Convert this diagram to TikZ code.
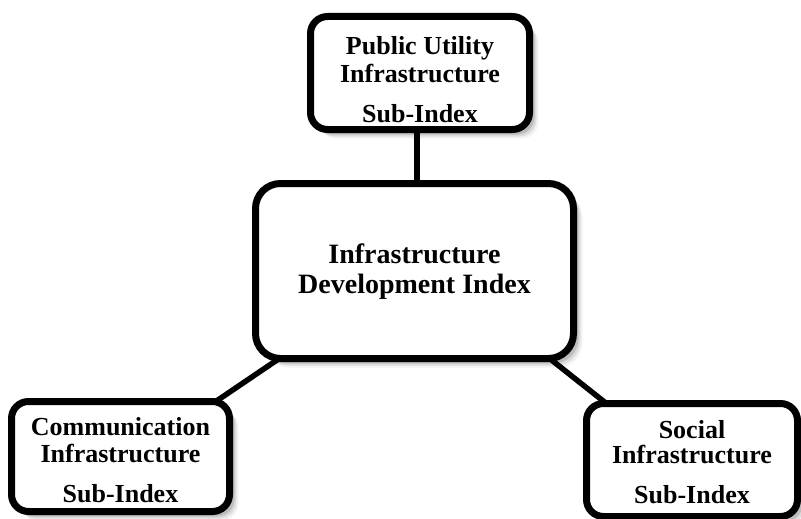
\documentclass[tikz,border=0pt]{standalone}
\usepackage{fontspec}
\setmainfont{Liberation Serif}
\usetikzlibrary{calc,shadows,backgrounds}

\begin{document}
\begin{tikzpicture}[x=1pt,y=-1pt,
  softshadow/.style={
    drop shadow={shadow xshift=5pt, shadow yshift=-5pt, opacity=0.14, fill=black},
    drop shadow={shadow xshift=7pt, shadow yshift=-7pt, opacity=0.09, fill=black},
    drop shadow={shadow xshift=9pt, shadow yshift=-9pt, opacity=0.05, fill=black}},
  box/.style={rectangle, draw=black, line width=7pt, fill=white,
    rounded corners=17pt, inner sep=0pt, softshadow},
  hub/.style={box, rounded corners=25pt},
  link/.style={draw=black, line width=5.5pt},
  sublabel/.style={font=\fontsize{26}{27}\selectfont\bfseries, anchor=base, inner sep=0pt},
  hublabel/.style={font=\fontsize{28}{30}\selectfont\bfseries, anchor=base, inner sep=0pt}]

  \useasboundingbox (0,0) rectangle (801,519);

  % boxes
  \node[box, minimum width=219pt, minimum height=113pt] (public) at (420,73) {};
  \node[hub, minimum width=318pt, minimum height=175pt] (idx) at (414.5,271) {};
  \node[box, minimum width=218pt, minimum height=110pt] (comm) at (120.5,456.5) {};
  \node[box, minimum width=211pt, minimum height=113pt] (social) at (692,460) {};

  % connectors, kept behind the boxes
  \begin{pgfonlayer}{background}
    \draw[link] ($(public.south)+(-3,-8)$) -- ($(idx.north)+(2.5,8)$);
    \draw[link] ($(idx.south west)+(28,-4)$) -- ($(comm.north east)+(-18,4)$);
    \draw[link] ($(idx.south east)+(-28,-4)$) -- ($(social.north west)+(24,4)$);
  \end{pgfonlayer}

  % labels
  \node[sublabel] (public1) at (420,55) {Public Utility};
  \node[sublabel] (public2) at (420,82) {Infrastructure};
  \node[sublabel] (public3) at (420,122) {Sub-Index};

  \node[hublabel] (idx1) at (414.5,263) {Infrastructure};
  \node[hublabel] (idx2) at (414.5,293) {Development Index};

  \node[sublabel] (comm1) at (120.5,435) {Communication};
  \node[sublabel] (comm2) at (120.5,462) {Infrastructure};
  \node[sublabel] (comm3) at (120.5,502) {Sub-Index};

  \node[sublabel] (social1) at (692,438) {Social};
  \node[sublabel] (social2) at (692,463) {Infrastructure};
  \node[sublabel] (social3) at (692,503) {Sub-Index};
\end{tikzpicture}
\end{document}
